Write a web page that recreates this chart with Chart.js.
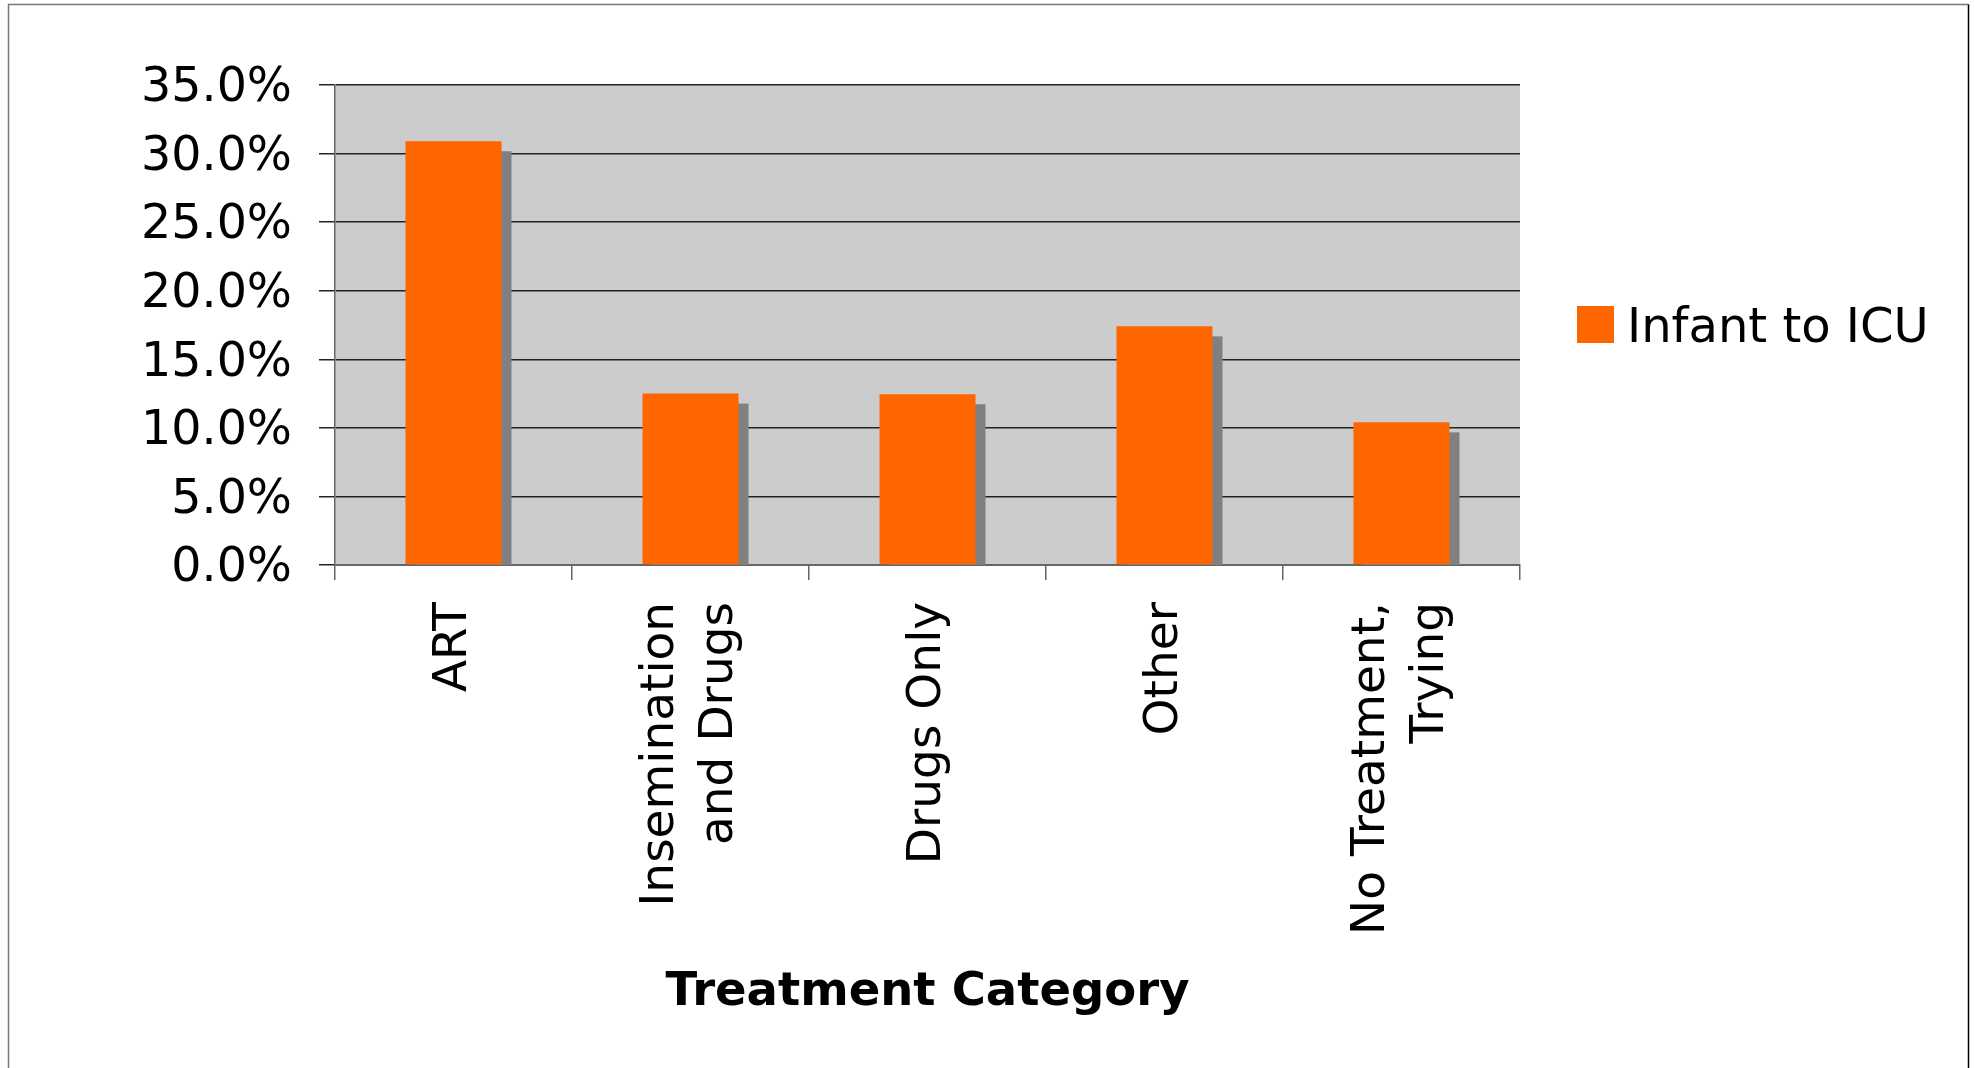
<!DOCTYPE html>
<html lang="en">
<head>
<meta charset="UTF-8">
<title>Infant to ICU by Treatment Category</title>
<script src="https://cdn.jsdelivr.net/npm/chart.js@4.4.1/dist/chart.umd.min.js"></script>
<style>
  html, body { margin: 0; padding: 0; background: #fff; overflow: hidden; }
  .wrapper { width: 1975px; height: 1068px; position: relative; }
</style>
</head>
<body>
<div class="wrapper">
  <canvas id="myChart"></canvas>
</div>
<script>
// chart data
var categories = [
  'ART',
  ['Insemination', 'and Drugs'],
  'Drugs Only',
  'Other',
  ['No Treatment,', 'Trying']
];
var seriesName = 'Infant to ICU';
var infantToIcu = [30.9, 12.5, 12.45, 17.4, 10.4];
var yTicks = [0, 5, 10, 15, 20, 25, 30, 35];
var axisTitle = 'Treatment Category';

var FONT = 'DejaVu Sans, Verdana, sans-serif';
Chart.defaults.font.family = FONT;
Chart.defaults.color = '#000';

// grey plot area + outer frame
var backdrop = {
  id: 'backdrop',
  beforeDraw: function (chart) {
    var c = chart.ctx, a = chart.chartArea;
    c.save();
    c.fillStyle = '#fff';
    c.fillRect(0, 0, chart.width, chart.height);
    c.lineWidth = 1.5;
    c.strokeStyle = '#777';
    c.beginPath();
    c.moveTo(8.5, chart.height);
    c.lineTo(8.5, 4.5);
    c.lineTo(1968.5, 4.5);
    c.stroke();
    c.strokeStyle = '#000';
    c.beginPath();
    c.moveTo(1968.5, 4.5);
    c.lineTo(1968.5, chart.height);
    c.stroke();
    c.fillStyle = '#cccccc';
    c.fillRect(a.left, a.top, a.right - a.left, a.bottom - a.top);
    c.restore();
  }
};

// centre two-line rotated labels on their tick
var centerLines = {
  id: 'centerLines',
  beforeDraw: function (chart) {
    var items = chart.scales.x.getLabelItems();
    items.forEach(function (it) {
      if (it._centred) return;
      var n = Array.isArray(it.label) ? it.label.length : 1;
      it.options.translation[0] -= (n - 1) * it.font.lineHeight / 2;
      it._centred = true;
    });
  }
};

// drop shadow behind each bar
var barShadow = {
  id: 'barShadow',
  beforeDatasetsDraw: function (chart) {
    var c = chart.ctx, a = chart.chartArea;
    var meta = chart.getDatasetMeta(0);
    c.save();
    c.beginPath();
    c.rect(a.left, a.top, a.right - a.left, a.bottom - a.top);
    c.clip();
    c.fillStyle = '#808080';
    meta.data.forEach(function (bar) {
      var p = bar.getProps(['x', 'y', 'base', 'width'], true);
      c.fillRect(p.x - p.width / 2 + 10, p.y + 10, p.width, p.base - p.y);
    });
    c.restore();
  }
};

// legend on the right, centred on the plot area
var sideLegend = {
  id: 'sideLegend',
  afterDraw: function (chart) {
    var c = chart.ctx, a = chart.chartArea;
    var ds = chart.data.datasets[0];
    var cy = (a.top + a.bottom) / 2;
    var bx = a.right + 57;
    c.save();
    c.fillStyle = ds.backgroundColor;
    c.fillRect(bx, cy - 19, 37, 37);
    c.fillStyle = '#000';
    c.font = '48px ' + FONT;
    c.textBaseline = 'middle';
    c.fillText(ds.label, bx + 50, cy + 5);
    c.restore();
  }
};

var ctx = document.getElementById('myChart').getContext('2d');
var chart = new Chart(ctx, {
  type: 'bar',
  data: {
    labels: categories,
    datasets: [{
      label: seriesName,
      data: infantToIcu,
      backgroundColor: '#ff6600',
      borderWidth: 0,
      categoryPercentage: 1,
      barPercentage: 0.405
    }]
  },
  options: {
    responsive: true,
    maintainAspectRatio: false,
    animation: false,
    layout: { padding: { left: 0, top: 85, right: 455, bottom: 47 } },
    plugins: {
      legend: { display: false },
      tooltip: { enabled: false }
    },
    scales: {
      x: {
        grid: {
          drawOnChartArea: false,
          drawTicks: true,
          tickLength: 15,
          color: '#666',
          lineWidth: 1.5
        },
        border: { color: '#666', width: 2 },
        ticks: {
          font: { size: 47, lineHeight: 1.25 },
          minRotation: 90,
          maxRotation: 90,
          padding: 22,
          autoSkip: false
        },
        title: {
          display: true,
          text: axisTitle,
          font: { size: 46.5, weight: 'bold' },
          padding: 0
        },
        afterFit: function (scale) { scale.height = 456; }
      },
      y: {
        min: 0,
        max: 35,
        afterBuildTicks: function (scale) {
          scale.ticks = yTicks.map(function (v) { return { value: v }; });
        },
        grid: {
          color: '#222',
          lineWidth: 1.5,
          tickLength: 16
        },
        border: { color: '#666', width: 1.5 },
        ticks: {
          font: { size: 47.5 },
          padding: 27,
          labelOffset: 4,
          callback: function (v) { return v.toFixed(1) + '%'; }
        },
        afterFit: function (scale) { scale.width = 335; }
      }
    }
  },
  plugins: [backdrop, centerLines, barShadow, sideLegend]
});
</script>
</body>
</html>
